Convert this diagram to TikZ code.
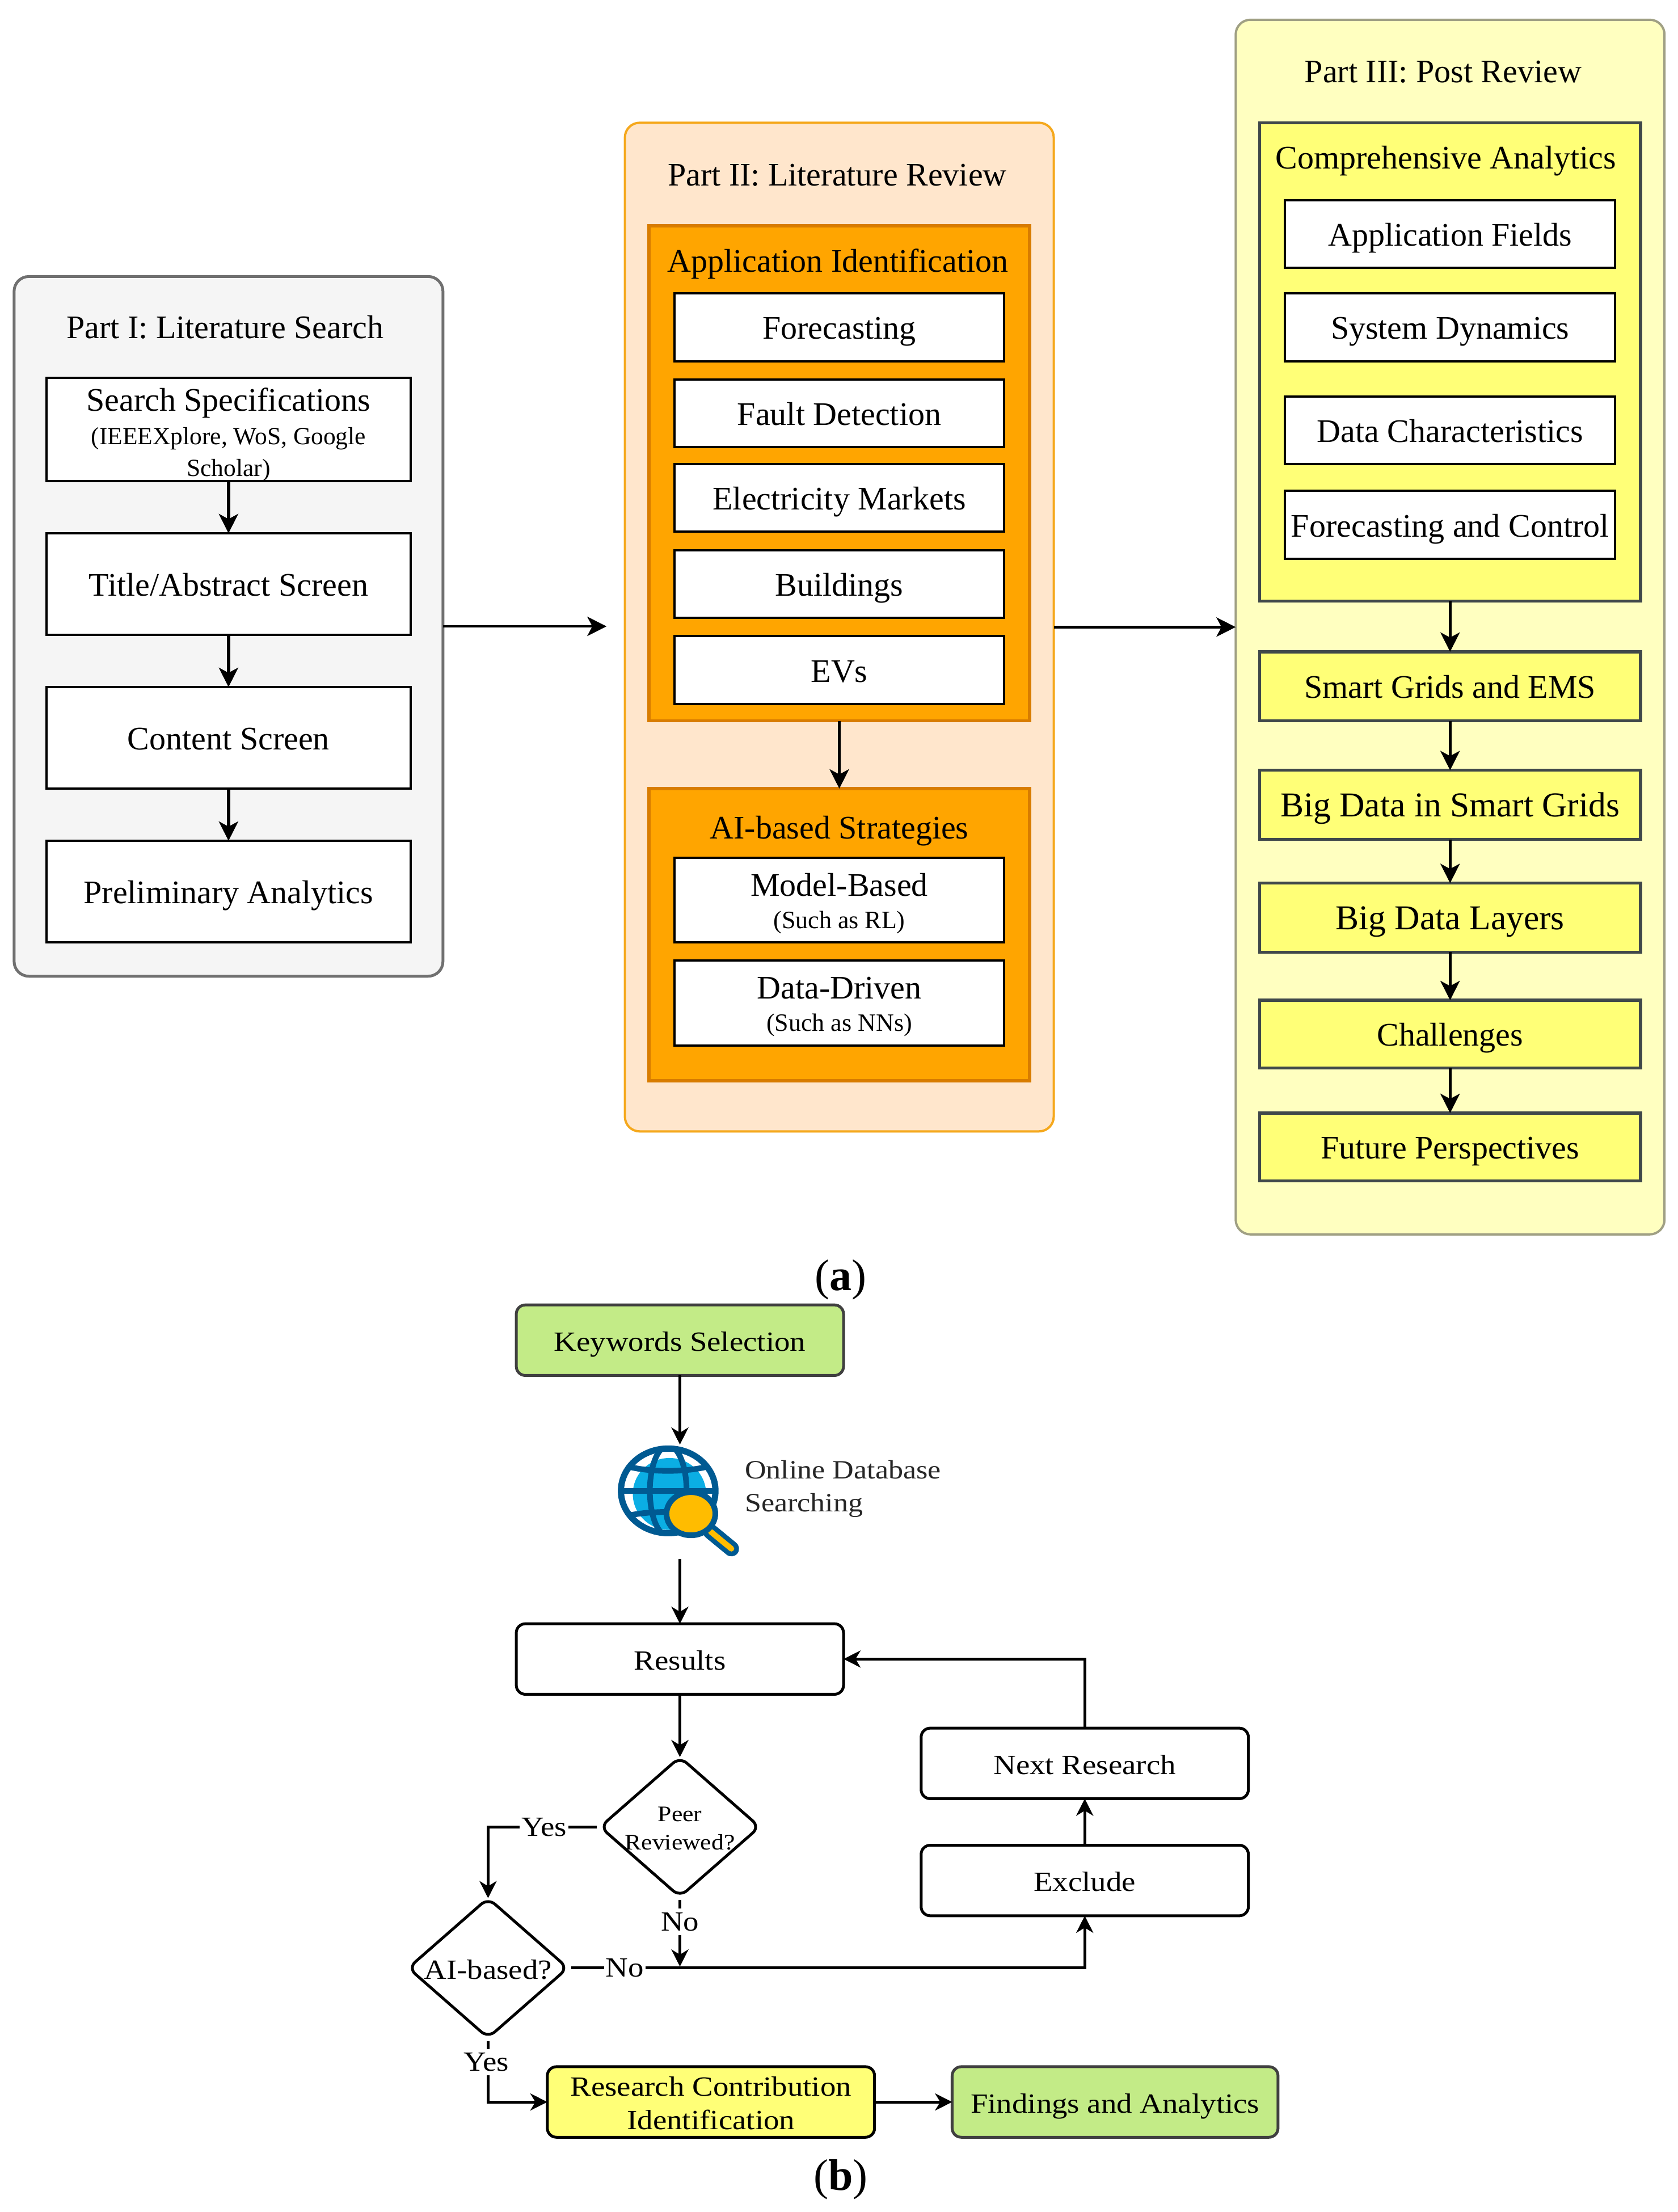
\documentclass[tikz,border=0pt]{standalone}
\usepackage{fontspec}
\setmainfont{Liberation Serif}
\newfontfamily\widefont[FakeStretch=1.12]{Liberation Serif}
\usetikzlibrary{arrows.meta,shapes.geometric}
\newcommand{\mainf}{\fontsize{58}{64}\selectfont}
\newcommand{\bigf}{\fontsize{61.5}{64}\selectfont}
\newcommand{\subf}{\fontsize{43.5}{47}\selectfont}
\newcommand{\tinyf}{\fontsize{44}{47}\selectfont}
\newcommand{\wf}{\widefont\fontsize{49}{60}\selectfont}
\newcommand{\bx}[7]{%
  \pgfmathsetlengthmacro{\bxw}{(#5-#3)*2.4866}%
  \pgfmathsetlengthmacro{\bxh}{(#6-#4)*2.4866}%
  \node[#1,minimum width=\bxw,minimum height=\bxh] (#2) at ({(#3+#5)/2},{(#4+#6)/2}) {#7};}
\definecolor{grayf}{HTML}{F5F5F5}
\definecolor{grays}{HTML}{707070}
\definecolor{peach}{HTML}{FFE6CC}
\definecolor{orngs}{HTML}{F5A81C}
\definecolor{orngf}{HTML}{FFA500}
\definecolor{orngd}{HTML}{D87C00}
\definecolor{paley}{HTML}{FFFFC0}
\definecolor{oliv}{HTML}{A0A084}
\definecolor{yell}{HTML}{FFFF77}
\definecolor{yeld}{HTML}{40484A}
\definecolor{gren}{HTML}{C3EB87}
\definecolor{gdark}{HTML}{005A92}
\definecolor{gblue}{HTML}{0BAEE4}
\definecolor{gold}{HTML}{FFBC00}
\tikzset{
  base/.style={rectangle,inner sep=0pt,outer sep=0pt,align=center,text height=50pt,text depth=8pt,font=\mainf},
  panelgray/.style={base,rounded corners=26pt,draw=grays,fill=grayf,line width=5pt},
  panelpeach/.style={base,rounded corners=26pt,draw=orngs,fill=peach,line width=4pt},
  panelyel/.style={base,rounded corners=26pt,draw=oliv,fill=paley,line width=4pt},
  orbox/.style={base,draw=orngd,fill=orngf,line width=5.5pt},
  ylbox/.style={base,draw=yeld,fill=yell,line width=5.5pt},
  wbox/.style={base,draw=black,fill=white,line width=4pt},
  flowr/.style={base,rounded corners=16pt,draw=black,fill=white,line width=5pt,font=\wf,text height=44pt,text depth=6pt},
  flowg/.style={flowr,fill=gren,draw=black!75},
  flowy/.style={flowr,fill=yell},
  dia/.style={diamond,aspect=1.15,inner sep=0pt,outer sep=0pt,rounded corners=16pt,draw=black,fill=white,line width=5pt},
  txt/.style={inner sep=0pt,align=center,font=\mainf},
  arr/.style={draw=black,line width=5.5pt,-{Stealth[length=34pt,width=34pt,inset=9pt]}},
  harr/.style={arr,line width=4.5pt},
  farr/.style={draw=black,line width=5pt,rounded corners=0pt,-{Stealth[length=30pt,width=30pt,inset=9pt]}},
  lab/.style={fill=white,inner xsep=3pt,inner ysep=7pt,font=\wf},
}
\begin{document}
\begin{tikzpicture}[x=2.4866pt,y=-2.4866pt]
\useasboundingbox (0,0) rectangle (1189.57,1568);
\fill[white] (0,0) rectangle (1189.57,1568);
% Part I
\bx{panelgray}{p1}{10}{196}{314}{692}{}
\node[txt] (p1t) at (159.5,232) {Part I: Literature Search};
\bx{wbox}{s1}{33}{268}{291}{341}{}
\node[txt] (s1t) at (162,308) {Search Specifications\\[-5pt]{\subf (IEEEXplore, WoS, Google}\\[-8pt]{\subf Scholar)}};
\bx{wbox}{s2}{33}{378}{291}{450}{Title/Abstract Screen}
\bx{wbox}{s3}{33}{487}{291}{559}{Content Screen}
\bx{wbox}{s4}{33}{596}{291}{668}{Preliminary Analytics}
\draw[arr] (s1) -- (s2);
\draw[arr] (s2) -- (s3);
\draw[arr] (s3) -- (s4);
% Part II
\bx{panelpeach}{p2}{443}{87}{747}{802}{}
\node[txt] (p2t) at (593.5,124) {Part II: Literature Review};
\bx{orbox}{ap}{460}{160}{730}{511}{}
\node[txt] (apt) at (594,187) {Application Identification};
\bx{wbox}{a1}{478}{208}{712}{256}{Forecasting}
\bx{wbox}{a2}{478}{269}{712}{317}{Fault Detection}
\bx{wbox}{a3}{478}{329}{712}{377}{Electricity Markets}
\bx{wbox}{a4}{478}{390}{712}{438}{Buildings}
\bx{wbox}{a5}{478}{451}{712}{499}{EVs}
\bx{orbox}{ai}{460}{559}{730}{766}{}
\node[txt] (ait) at (595,589) {AI-based Strategies};
\bx{wbox}{b1}{478}{608}{712}{668}{}
\node[txt] (b1t) at (595,640.5) {Model-Based\\[-7pt]{\tinyf (Such as RL)}};
\bx{wbox}{b2}{478}{681}{712}{741}{}
\node[txt] (b2t) at (595,713.5) {Data-Driven\\[-7pt]{\tinyf (Such as NNs)}};
\draw[arr] (ap) -- (ai);
% Part III
\bx{panelyel}{p3}{876}{14}{1180}{875}{}
\node[txt] (p3t) at (1023,51) {Part III: Post Review};
\bx{ylbox}{ca}{893}{87}{1163}{426}{}
\node[txt] (cat) at (1025,114) {Comprehensive Analytics};
\bx{wbox}{c1}{911}{142}{1145}{190}{Application Fields}
\bx{wbox}{c2}{911}{208}{1145}{256}{System Dynamics}
\bx{wbox}{c3}{911}{281}{1145}{329}{Data Characteristics}
\bx{wbox}{c4}{911}{348}{1145}{396}{Forecasting and Control}
\bx{ylbox}{d1}{893}{462}{1163}{511}{Smart Grids and EMS}
\bx{ylbox,font=\bigf}{d2}{893}{546}{1163}{595}{Big Data in Smart Grids}
\bx{ylbox,font=\bigf}{d3}{893}{626}{1163}{675}{Big Data Layers}
\bx{ylbox}{d4}{893}{709}{1163}{757}{Challenges}
\bx{ylbox}{d5}{893}{789}{1163}{837}{Future Perspectives}
\draw[arr] (ca) -- (d1);
\draw[arr] (d1) -- (d2);
\draw[arr] (d2) -- (d3);
\draw[arr] (d3) -- (d4);
\draw[arr] (d4) -- (d5);
% between parts
\coordinate (p2in) at (430,444);
\draw[harr] (p1.east) -- (p2in);
\draw[harr] (p2.east) -- (p3.west);
\node[inner sep=0pt,font=\fontsize{78}{82}\selectfont] (capa) at (596,907) {(\textbf{a})};
% Part b
\bx{flowg}{kw}{366}{925}{598}{975}{Keywords Selection}
\coordinate (gtop) at (482,1024);
\coordinate (gbot) at (482,1105);
\draw[farr] (kw.south) -- (gtop);
% globe icon
\begin{scope}
  \fill[white] (473.7,1056.8) ellipse [x radius=35,y radius=32];
  \fill[gblue] (474.6,1059) ellipse [x radius=26,y radius=25.5];
  \begin{scope}
    \clip (473.7,1056.8) ellipse [x radius=35,y radius=32];
    \draw[gdark,line width=10pt] (473.7,1056.8) ellipse [x radius=13,y radius=32];
    \draw[gdark,line width=10pt] (440,1056.8) -- (508,1056.8);
    \draw[gdark,line width=10pt] (447,1040) .. controls (462,1043.5) and (485,1043.5) .. (500,1040);
    \draw[gdark,line width=10pt] (447,1074) .. controls (462,1071) and (485,1071) .. (500,1074);
  \end{scope}
  \draw[gdark,line width=11pt] (473.7,1056.8) ellipse [x radius=33.5,y radius=30];
  \draw[gdark,line width=27pt,line cap=round] (503.9,1085.8) -- (518.5,1097.8);
  \draw[gold,line width=10pt,line cap=round] (503.9,1085.8) -- (518.5,1097.8);
  \fill[gold,draw=gdark,line width=10pt] (489.8,1073) ellipse [x radius=17.3,y radius=15.3];
\end{scope}
\node[inner sep=0pt,align=left,anchor=west,text=black!85,font=\widefont\fontsize{46.5}{58}\selectfont] (odb) at (528,1055.5) {Online Database\\Searching};
\bx{flowr}{res}{366}{1151}{598}{1201}{Results}
\draw[farr] (gbot) -- (res.north);
\pgfmathsetlengthmacro{\dw}{113*2.4866}
\pgfmathsetlengthmacro{\dh}{99*2.4866}
\node[dia,minimum width=\dw,minimum height=\dh] (peer) at (482,1295) {};
\node[inner sep=0pt,align=center,font=\widefont\fontsize{39}{50}\selectfont] (peert) at (482,1296) {Peer\\Reviewed?};
\node[dia,minimum width=\dw,minimum height=\dh] (aib) at (346,1395) {};
\node[inner sep=0pt,font=\wf] (aibt) at (346,1396) {AI-based?};
\draw[farr] (res.south) -- (peer.north);
\bx{flowr}{nx}{653}{1225}{885}{1275}{Next Research}
\bx{flowr}{ex}{653}{1308}{885}{1358}{Exclude}
\bx{flowy}{rc}{388}{1465}{620}{1515}{}
\node[inner sep=0pt,align=center,font=\wf] (rct) at (504,1491) {Research Contribution\\[-1pt]Identification};
\bx{flowg}{fa}{675}{1465}{906}{1515}{Findings and Analytics}
\draw[farr] (ex.north) -- (nx.south);
\draw[farr] (nx.north) -- (nx.north|-res.east) -- (res.east);
\draw[farr,shorten <=6pt] (peer.west) -- node[lab]{Yes} (aib.north|-peer.west) -- (aib.north);
\coordinate (junc) at (482,1394);
\draw[farr,shorten <=6pt] (peer.south) -- node[lab,pos=.36]{No} (junc);
\draw[farr,shorten <=6pt] (aib.east) -- node[lab,pos=.11]{No} (ex.south|-aib.east) -- (ex.south);
\draw[farr,shorten <=6pt] (aib.south) -- node[lab,pos=.38,xshift=-3pt]{Yes} (aib.south|-rc.west) -- (rc.west);
\draw[farr] (rc.east) -- (fa.west);
\node[inner sep=0pt,font=\fontsize{78}{82}\selectfont] (capb) at (596,1545) {(\textbf{b})};
\end{tikzpicture}
\end{document}
